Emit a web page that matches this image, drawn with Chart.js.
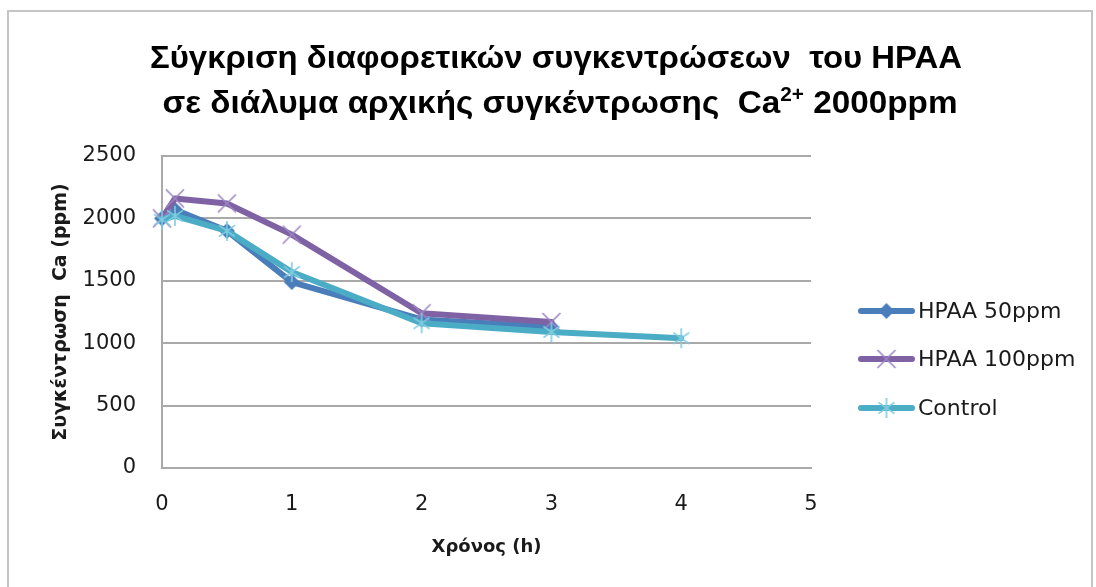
<!DOCTYPE html>
<html>
<head>
<meta charset="utf-8">
<title>Σύγκριση συγκεντρώσεων HPAA</title>
<script src="https://cdn.jsdelivr.net/npm/chart.js@4.4.1/dist/chart.umd.min.js"></script>
<style>
  html, body { margin: 0; padding: 0; background: #ffffff; }
  canvas { display: block; }
</style>
</head>
<body>
<canvas id="chart" width="1096" height="587"></canvas>
<script>
// Ca concentration (ppm) over time (h) for each treatment
const timeHPAA50 = [0, 0.1, 0.5, 1, 2, 3];
const caHPAA50 = [2000, 2070, 1900, 1490, 1190, 1130];

const timeHPAA100 = [0, 0.1, 0.5, 1, 2, 3];
const caHPAA100 = [2000, 2160, 2120, 1870, 1240, 1170];

const timeControl = [0, 0.1, 0.5, 1, 2, 3, 4];
const caControl = [1990, 2020, 1900, 1570, 1160, 1090, 1040];

const seriesNames = ['HPAA 50ppm', 'HPAA 100ppm', 'Control'];
const xTickValues = [0, 1, 2, 3, 4, 5];
const yTickValues = [0, 500, 1000, 1500, 2000, 2500];

const titleLine1 = [{ text: 'Σύγκριση διαφορετικών συγκεντρώσεων  του HPAA' }];
const titleLine2 = [
  { text: 'σε διάλυμα αρχικής συγκέντρωσης  Ca' },
  { text: '2+', sup: true },
  { text: ' 2000ppm' }
];
const xAxisTitle = 'Χρόνος (h)';
const yAxisTitle = 'Συγκέντρωση  Ca (ppm)';

const COLORS = {
  hpaa50: '#4a7ebb',
  hpaa100: '#7f62a4',
  control: '#4bacc6'
};

function toPoints(xs, ys) {
  return xs.map((x, i) => ({ x: x, y: ys[i] }));
}

// Marker glyphs drawn on small canvases and used as point styles
function makeMarker(kind) {
  const s = 26;
  const c = document.createElement('canvas');
  c.width = s; c.height = s;
  const g = c.getContext('2d');
  const m = s / 2;
  if (kind === 'diamond') {
    g.fillStyle = COLORS.hpaa50;
    g.beginPath();
    g.moveTo(m, m - 8); g.lineTo(m + 8, m); g.lineTo(m, m + 8); g.lineTo(m - 8, m);
    g.closePath();
    g.fill();
  } else if (kind === 'cross') {
    g.strokeStyle = '#9c86c4';
    g.lineWidth = 1.6;
    const r = 9;
    g.beginPath();
    g.moveTo(m - r, m - r); g.lineTo(m + r, m + r);
    g.moveTo(m + r, m - r); g.lineTo(m - r, m + r);
    g.stroke();
  } else {
    g.strokeStyle = '#7fcbe0';
    g.lineWidth = 1.6;
    const r = 10, d = 8;
    g.beginPath();
    g.moveTo(m, m - r); g.lineTo(m, m + r);
    g.moveTo(m - d, m - d * 0.7); g.lineTo(m + d, m + d * 0.7);
    g.moveTo(m + d, m - d * 0.7); g.lineTo(m - d, m + d * 0.7);
    g.stroke();
  }
  return c;
}

const markerHPAA50 = makeMarker('diamond');
const markerHPAA100 = makeMarker('cross');
const markerControl = makeMarker('star');

const FRAME_COLOR = '#c4c4c4';
const GRID_COLOR = '#a9a9a9';
const TEXT_COLOR = '#1a1a1a';

// Outer chart frame
const framePlugin = {
  id: 'frame',
  beforeDraw(chart) {
    const ctx = chart.ctx;
    ctx.save();
    ctx.fillStyle = '#ffffff';
    ctx.fillRect(0, 0, chart.width, chart.height);
    ctx.strokeStyle = FRAME_COLOR;
    ctx.lineWidth = 2;
    ctx.strokeRect(8, 11, chart.width - 12, chart.height + 20);
    ctx.restore();
  }
};

// Two-line title with a superscript run, fitted to a fixed width
const titlePlugin = {
  id: 'richTitle',
  afterDraw(chart) {
    const ctx = chart.ctx;
    const lines = [
      { runs: titleLine1, baseline: 68, width: 812, cx: 556 },
      { runs: titleLine2, baseline: 113, width: 795, cx: 560 }
    ];
    const mainFont = 'bold 32px "Liberation Sans", Arial, sans-serif';
    const supFont = 'bold 20px "Liberation Sans", Arial, sans-serif';
    ctx.save();
    ctx.fillStyle = '#000000';
    ctx.textBaseline = 'alphabetic';
    ctx.textAlign = 'left';
    lines.forEach(line => {
      let total = 0;
      const widths = line.runs.map(r => {
        ctx.font = r.sup ? supFont : mainFont;
        const w = ctx.measureText(r.text).width;
        total += w;
        return w;
      });
      const sx = Math.max(0.75, Math.min(1.1, line.width / total));
      ctx.save();
      ctx.translate(line.cx - (total * sx) / 2, line.baseline);
      ctx.scale(sx, 1);
      let x = 0;
      line.runs.forEach((r, i) => {
        ctx.font = r.sup ? supFont : mainFont;
        ctx.fillText(r.text, x, r.sup ? -12 : 0);
        x += widths[i];
      });
      ctx.restore();
    });
    ctx.restore();
  }
};

// Legend on the right: line sample with marker, then the series name
const legendPlugin = {
  id: 'sideLegend',
  afterDraw(chart) {
    const ctx = chart.ctx;
    const area = chart.chartArea;
    const x0 = area.right + 47;
    const lineLen = 57;
    const rows = [
      { color: COLORS.hpaa50, marker: markerHPAA50, y: 311 },
      { color: COLORS.hpaa100, marker: markerHPAA100, y: 359 },
      { color: COLORS.control, marker: markerControl, y: 408 }
    ];
    ctx.save();
    rows.forEach((row, i) => {
      ctx.strokeStyle = row.color;
      ctx.lineWidth = 6;
      ctx.lineCap = 'round';
      ctx.beginPath();
      ctx.moveTo(x0 + 3, row.y);
      ctx.lineTo(x0 + lineLen - 3, row.y);
      ctx.stroke();
      const m = row.marker;
      ctx.drawImage(m, x0 + lineLen / 2 - m.width / 2, row.y - m.height / 2);
      ctx.fillStyle = TEXT_COLOR;
      ctx.font = '22px "DejaVu Sans", sans-serif';
      ctx.textBaseline = 'middle';
      ctx.textAlign = 'left';
      ctx.fillText(seriesNames[i], x0 + lineLen + 3, row.y + 1);
    });
    ctx.restore();
  }
};

const lineDefaults = {
  showLine: true,
  borderWidth: 6,
  tension: 0,
  pointRadius: 10,
  pointHoverRadius: 10,
  clip: false,
  borderJoinStyle: 'round',
  borderCapStyle: 'round'
};

new Chart(document.getElementById('chart'), {
  type: 'scatter',
  data: {
    datasets: [
      Object.assign({}, lineDefaults, {
        label: seriesNames[0],
        data: toPoints(timeHPAA50, caHPAA50),
        borderColor: COLORS.hpaa50,
        backgroundColor: COLORS.hpaa50,
        pointStyle: markerHPAA50,
        order: 2
      }),
      Object.assign({}, lineDefaults, {
        label: seriesNames[1],
        data: toPoints(timeHPAA100, caHPAA100),
        borderColor: COLORS.hpaa100,
        backgroundColor: COLORS.hpaa100,
        pointStyle: markerHPAA100,
        order: 1
      }),
      Object.assign({}, lineDefaults, {
        label: seriesNames[2],
        data: toPoints(timeControl, caControl),
        borderColor: COLORS.control,
        backgroundColor: COLORS.control,
        pointStyle: markerControl,
        order: 0
      })
    ]
  },
  options: {
    responsive: false,
    animation: false,
    devicePixelRatio: 1,
    layout: { padding: { top: 156, right: 285, bottom: 0, left: 0 } },
    plugins: {
      legend: { display: false },
      tooltip: { enabled: false },
      title: { display: false }
    },
    scales: {
      x: {
        type: 'linear',
        min: 0,
        max: 5,
        afterBuildTicks(scale) { scale.ticks = xTickValues.map(v => ({ value: v })); },
        afterFit(scale) { scale.height = 119; },
        grid: { display: false, drawTicks: false },
        border: { display: true, color: GRID_COLOR, width: 2 },
        ticks: {
          padding: 24,
          color: TEXT_COLOR,
          font: { family: '"DejaVu Sans", sans-serif', size: 21 },
          maxRotation: 0,
          callback: v => String(v)
        },
        title: {
          display: true,
          text: xAxisTitle,
          color: TEXT_COLOR,
          font: { family: '"DejaVu Sans", sans-serif', size: 18, weight: 'bold' },
          padding: { top: 29, bottom: 29 }
        }
      },
      y: {
        type: 'linear',
        min: 0,
        max: 2500,
        afterBuildTicks(scale) { scale.ticks = yTickValues.map(v => ({ value: v })); },
        afterFit(scale) { scale.width = 162; },
        grid: { color: GRID_COLOR, lineWidth: 2, drawTicks: false },
        border: { display: true, color: GRID_COLOR, width: 2 },
        ticks: {
          padding: 26,
          color: TEXT_COLOR,
          font: { family: '"DejaVu Sans", sans-serif', size: 21 },
          callback: v => String(v)
        },
        title: {
          display: true,
          text: yAxisTitle,
          color: TEXT_COLOR,
          font: { family: '"DejaVu Sans", sans-serif', size: 19, weight: 'bold' },
          padding: { top: 50, bottom: 50 }
        }
      }
    }
  },
  plugins: [framePlugin, titlePlugin, legendPlugin]
});
</script>
</body>
</html>
